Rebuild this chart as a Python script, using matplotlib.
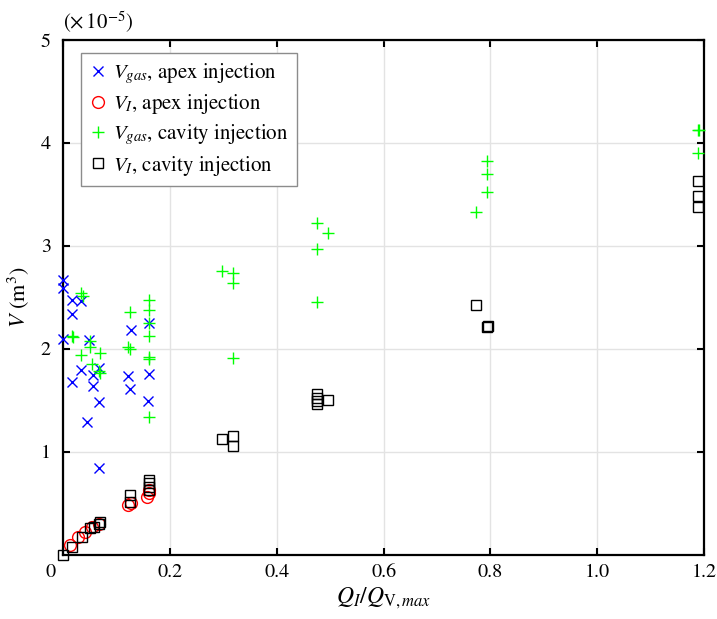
import matplotlib
matplotlib.use("Agg")
import matplotlib.pyplot as plt
from matplotlib.transforms import ScaledTranslation

plt.rcParams['font.family'] = ['STIXGeneral', 'DejaVu Serif']
plt.rcParams['mathtext.fontset'] = 'stix'

# Values of V in units of 1e-5 m^3
apex_gas_x = [0.0, 0.0, 0.016, 0.034, 0.016, 0.0, 0.049, 0.034, 0.016, 0.066, 0.056,
              0.055, 0.066, 0.045, 0.066, 0.127, 0.121, 0.125, 0.161, 0.161, 0.159]
apex_gas_y = [2.67, 2.59, 2.47, 2.46, 2.34, 2.09, 2.08, 1.79, 1.68, 1.81, 1.745,
              1.64, 1.48, 1.29, 0.845, 2.18, 1.73, 1.61, 2.25, 1.75, 1.49]

apex_liq_x = [0.0125, 0.028, 0.041, 0.053, 0.066, 0.122, 0.127, 0.156, 0.16, 0.16]
apex_liq_y = [0.093, 0.168, 0.22, 0.265, 0.30, 0.48, 0.50, 0.56, 0.60, 0.63]

cav_gas_x = [0.034, 0.036, 0.016, 0.019, 0.05, 0.05, 0.034, 0.069, 0.053, 0.069, 0.066,
             0.125, 0.122, 0.125, 0.16, 0.16, 0.16, 0.16, 0.16, 0.16, 0.16,
             0.297, 0.317, 0.317, 0.317, 0.475, 0.496, 0.475, 0.475,
             0.793, 0.793, 0.793, 0.772, 1.188, 1.19, 1.188]
cav_gas_y = [2.54, 2.51, 2.12, 2.11, 2.07, 2.02, 1.94, 1.96, 1.85, 1.76, 1.78,
             2.36, 2.02, 2.0, 2.47, 2.38, 2.25, 2.12, 1.92, 1.90, 1.34,
             2.756, 2.74, 2.64, 1.91, 3.225, 3.12, 2.97, 2.45,
             3.82, 3.70, 3.52, 3.33, 4.13, 4.13, 3.90]

cav_liq_x = [0.0, 0.016, 0.0345, 0.05, 0.057, 0.069, 0.066, 0.125, 0.125,
             0.16, 0.16, 0.16, 0.16, 0.297, 0.318, 0.318,
             0.475, 0.475, 0.475, 0.475, 0.496, 0.773, 0.793, 0.795,
             1.189, 1.189, 1.189]
cav_liq_y = [0.0, 0.077, 0.174, 0.255, 0.27, 0.32, 0.30, 0.58, 0.51,
             0.725, 0.69, 0.66, 0.63, 1.12, 1.15, 1.055,
             1.56, 1.52, 1.49, 1.46, 1.50, 2.426, 2.215, 2.22,
             3.63, 3.48, 3.375]

x_ticks = [0, 0.2, 0.4, 0.6, 0.8, 1.0, 1.2]
x_tick_labels = ['0', '0.2', '0.4', '0.6', '0.8', '1.0', '1.2']
y_ticks = [1, 2, 3, 4, 5]
y_tick_labels = ['1', '2', '3', '4', '5']

fig = plt.figure(figsize=(7.17, 6.19), dpi=100)
ax = fig.add_axes([0.0883, 0.1042, 0.8936, 0.8312])

ax.plot(apex_gas_x, apex_gas_y, ls='none', marker='x', color=(0, 0, 1), ms=6.5, mew=1,
        clip_on=False, label=r'$V_{gas}$, apex injection', zorder=3)
ax.plot(apex_liq_x, apex_liq_y, ls='none', marker='o', color=(1, 0, 0), mfc='none', ms=8.5, mew=1,
        clip_on=False, label=r'$V_I$, apex injection', zorder=3)
ax.plot(cav_gas_x, cav_gas_y, ls='none', marker='+', color=(0, 1, 0), ms=8, mew=1,
        clip_on=False, label=r'$V_{gas}$, cavity injection', zorder=3)
ax.plot(cav_liq_x, cav_liq_y, ls='none', marker='s', color='black', mfc='none', ms=7, mew=1,
        clip_on=False, label=r'$V_I$, cavity injection', zorder=3)

ax.set_xlim(0, 1.2)
ax.set_ylim(0, 5)
ax.set_xticks(x_ticks)
ax.set_xticklabels(x_tick_labels)
ax.set_yticks(y_ticks)
ax.set_yticklabels(y_tick_labels)
ax.grid(True, color='#e3e3e3', lw=1)
ax.set_axisbelow(True)
ax.tick_params(direction='in', length=5, width=1.5, labelsize=14.5, top=True, right=True,
               colors='black')
ax.tick_params(axis='x', pad=7)
ax.tick_params(axis='y', pad=9)
for s in ax.spines.values():
    s.set_linewidth(1.6)

lbl0 = ax.get_xticklabels()[0]
lbl0.set_transform(lbl0.get_transform() + ScaledTranslation(-0.13, 0, fig.dpi_scale_trans))

ax.set_xlabel(r'$Q_I/Q_{\mathrm{V},max}$', fontsize=17, labelpad=3)
ax.set_ylabel(r'$V$ (m$^3$)', fontsize=16, labelpad=7)

fig.text(98 / 717, 1 - 22 / 619, r'$(\times\,10^{-5})$', fontsize=15, ha='center', va='center')

leg = ax.legend(loc='upper left', bbox_to_anchor=(0.0276, 0.975), borderaxespad=0,
                fontsize=15, fancybox=False, edgecolor='#8c8c8c', framealpha=1,
                handlelength=0.8, handletextpad=0.35, labelspacing=0.3, borderpad=0.4)
leg.get_frame().set_linewidth(1)

fig.savefig('out.png', dpi=100)
